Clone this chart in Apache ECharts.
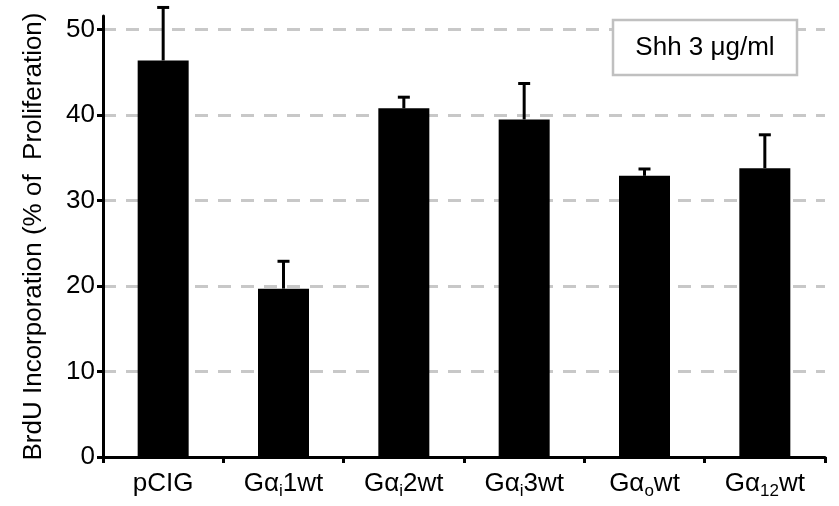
<!DOCTYPE html>
<html>
<head>
<meta charset="utf-8">
<script src="https://cdn.jsdelivr.net/npm/echarts@6.0.0/dist/echarts.min.js"></script>
<style>
html,body{margin:0;padding:0;background:#fff;}
#chart{width:839px;height:506px;}
</style>
</head>
<body>
<div id="chart"></div>
<script>
// Data
var labelMain = ['pCIG', 'Gα', 'Gα', 'Gα', 'Gα', 'Gα'];
var labelSub  = ['', 'i', 'i', 'i', 'o', '12'];
var labelTail = ['', '1wt', '2wt', '3wt', 'wt', 'wt'];
var categories = labelMain.map(function (m, i) { return m + labelSub[i] + labelTail[i]; });
var means = [46.4, 19.7, 40.8, 39.5, 32.9, 33.8];
var errors = [6.2, 3.2, 1.3, 4.2, 0.8, 3.9];
var yTicks = [0, 10, 20, 30, 40, 50];
var yTitle = 'BrdU Incorporation (% of  Proliferation)';
var boxText = 'Shh 3 μg/ml';

var FONT = '"Liberation Sans", Arial, Helvetica, sans-serif';
var chart = echarts.init(document.getElementById('chart'), null, {renderer: 'canvas'});

var errData = categories.map(function (c, i) { return [i, means[i], errors[i]]; });

var option = {
  animation: false,
  backgroundColor: '#fff',
  textStyle: {fontFamily: FONT},
  grid: {left: 103, right: 14, top: 16, bottom: 49, containLabel: false},
  xAxis: {
    type: 'category',
    data: categories,
    boundaryGap: true,
    axisLine: {show: true, lineStyle: {color: '#000', width: 3}},
    axisTick: {show: true, interval: 0, alignWithLabel: false, inside: false, length: 6, lineStyle: {color: '#000', width: 3}},
    axisLabel: {
      interval: 0,
      margin: 11,
      color: '#000',
      fontFamily: FONT,
      fontSize: 26,
      formatter: function (val, idx) {
        var s = '{m|' + labelMain[idx] + '}';
        if (labelSub[idx]) s += '{s|' + labelSub[idx] + '}';
        if (labelTail[idx]) s += '{m|' + labelTail[idx] + '}';
        return s;
      },
      rich: {
        m: {fontSize: 26, fontFamily: FONT, color: '#000', lineHeight: 32, verticalAlign: 'middle'},
        s: {fontSize: 17, fontFamily: FONT, color: '#000', lineHeight: 32, verticalAlign: 'bottom'}
      }
    },
    splitLine: {show: false}
  },
  yAxis: {
    type: 'value',
    min: 0,
    max: 51.6,
    interval: 10,
    name: yTitle,
    nameLocation: 'middle',
    nameGap: 56,
    nameTextStyle: {color: '#000', fontSize: 26, fontFamily: FONT},
    axisLine: {show: true, lineStyle: {color: '#000', width: 3}},
    axisTick: {show: true, length: 6, customValues: yTicks, lineStyle: {color: '#000', width: 3}},
    axisLabel: {show: true, margin: 8, color: '#000', fontSize: 26, fontFamily: FONT, customValues: yTicks},
    splitLine: {show: true, lineStyle: {color: '#c8c8c8', width: 3, type: [13, 10]}}
  },
  graphic: [{
    type: 'group',
    z: 100,
    children: [
      {type: 'rect', shape: {x: 613, y: 20, width: 184, height: 55}, style: {fill: '#fff', stroke: '#c0c0c0', lineWidth: 2.5}, z: 100},
      {type: 'text', x: 705, y: 48, style: {text: boxText, fill: '#000', font: '26px ' + FONT, textAlign: 'center', textVerticalAlign: 'middle'}, z: 101}
    ]
  }],
  series: [
    {
      type: 'bar',
      data: means,
      barWidth: 51,
      itemStyle: {color: '#000'},
      z: 2
    },
    {
      type: 'custom',
      data: errData,
      clip: false,
      z: 3,
      renderItem: function (params, api) {
        var x = api.value(0), y = api.value(1), e = api.value(2);
        var base = api.coord([x, y]);
        var top = api.coord([x, y + e]);
        var hw = 6;
        return {
          type: 'group',
          children: [
            {type: 'line', shape: {x1: base[0], y1: base[1], x2: top[0], y2: top[1]}, style: {stroke: '#000', lineWidth: 3}},
            {type: 'line', shape: {x1: top[0] - hw, y1: top[1], x2: top[0] + hw, y2: top[1]}, style: {stroke: '#000', lineWidth: 3}}
          ]
        };
      }
    }
  ]
};
chart.setOption(option);
</script>
</body>
</html>
